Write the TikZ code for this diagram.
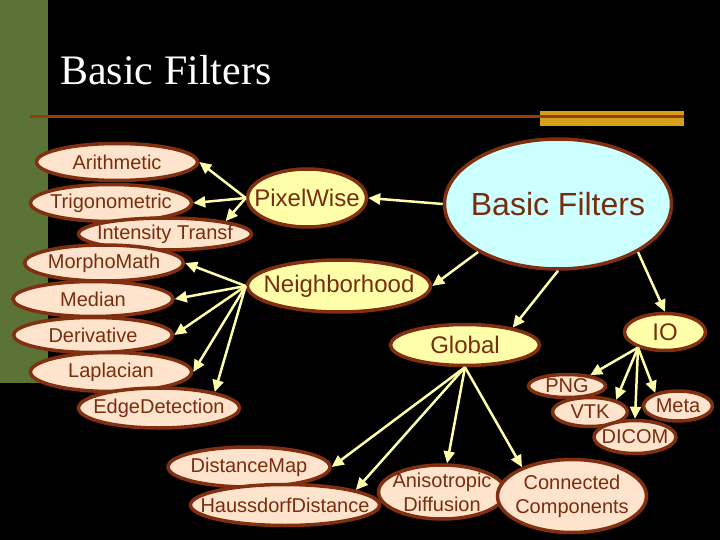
\documentclass[tikz,border=0pt]{standalone}
\usepackage{fontspec}
\setmainfont{Liberation Serif}
\setsansfont{Liberation Sans}
\usetikzlibrary{shapes.geometric,arrows.meta}
\definecolor{slidegreen}{RGB}{91,115,54}
\definecolor{slidegold}{RGB}{212,160,23}
\definecolor{ruleline}{RGB}{150,60,10}
\definecolor{bubbleedge}{RGB}{128,48,16}
\definecolor{bubbletext}{RGB}{120,46,14}
\definecolor{leaffill}{RGB}{255,228,205}
\definecolor{groupfill}{RGB}{255,255,170}
\definecolor{rootfill}{RGB}{204,255,255}
\definecolor{linkcol}{RGB}{255,255,170}

\begin{document}
\begin{tikzpicture}[x=1pt, y=-1pt,
    bubble/.style={ellipse, draw=bubbleedge, line width=3.5pt, inner xsep=-30pt, inner ysep=-12pt,
        text=bubbletext, font=\sffamily\fontsize{20}{24}\selectfont, align=center},
    wh/.style 2 args={minimum width=#1, minimum height=#2},
    leaf/.style={bubble, fill=leaffill},
    group/.style={bubble, fill=groupfill, font=\sffamily\fontsize{24}{28}\selectfont},
    root/.style={bubble, fill=rootfill, font=\sffamily\fontsize{32}{36}\selectfont},
    link/.style={-{Triangle[length=12pt,width=11pt]}, draw=linkcol, line width=2.5pt}]

    % Slide background
    \fill[black] (0,0) rectangle (720,540);
    \useasboundingbox (0,0) rectangle (720,540);
    \fill[slidegreen] (0,0) rectangle (48,383);
    \fill[slidegold] (540,111) rectangle (684,126);
    \draw[ruleline, line width=3pt] (30,117) -- (684,117);
    \node[anchor=base west, inner sep=0pt, text=white, font=\fontsize{42}{48}\selectfont] (title) at (60,85) {Basic Filters};

    % Pixel-wise filters
    \node[leaf, wh={161}{37}] (arith) at (117,162) {Arithmetic};
    \node[leaf, wh={161}{37}] (trig) at (111,203) {Trigonometric};
    \node[leaf, wh={173}{32}] (intens) at (165,234) {Intensity Transf};

    % Neighborhood filters
    \node[leaf, wh={159}{36}] (morph) at (104,263) {MorphoMath};
    \node[leaf, wh={160}{35}] (median) at (93,299) {Median};
    \node[leaf, wh={159}{35}] (deriv) at (93,335) {Derivative};
    \node[leaf, wh={161}{39}] (lapl) at (111,372) {Laplacian};
    \node[leaf, wh={161}{40}] (edge) at (159,408) {EdgeDetection};

    % Global filters
    \node[leaf, wh={162}{40}] (distmap) at (249,467) {DistanceMap};
    \node[leaf, wh={189}{41}] (hauss) at (285,505) {HaussdorfDistance};
    \node[leaf, wh={127}{54}] (aniso) at (442,492) {Anisotropic\\Diffusion};
    \node[leaf, wh={149}{73}] (conn) at (572,496) {Connected\\Components};

    % IO formats
    \node[leaf, wh={77}{23}] (png) at (567,386) {PNG};
    \node[leaf, wh={75}{29}] (vtk) at (590,412) {VTK};
    \node[leaf, wh={69}{30}] (meta) at (678,406) {Meta};
    \node[leaf, wh={82}{33}] (dicom) at (635,437) {DICOM};

    % Groups and root
    \node[group, wh={119}{58}] (pixel) at (307,198) {PixelWise};
    \node[group, wh={183}{52}] (neigh) at (339,286) {Neighborhood};
    \node[group, wh={149}{41}] (global) at (465,345) {Global};
    \node[group, wh={81}{37}] (io) at (665,332) {IO};
    \node[root, wh={227}{130}] (basic) at (558,204) {Basic Filters};

    % Links
    \draw[link] (basic.west) -- (pixel.east);
    \draw[link] (basic.211) -- (neigh.east);
    \draw[link] (basic.south) -- (global.20);
    \draw[link] (basic.329) -- (io.north);

    \draw[link] (pixel.west) -- (arith.east);
    \draw[link] (pixel.west) -- (trig.east);
    \draw[link] (pixel.west) -- (intens.12);

    \draw[link] (neigh.west) -- (morph.east);
    \draw[link] (neigh.west) -- (median.east);
    \draw[link] (neigh.west) -- (deriv.east);
    \draw[link] (neigh.west) -- (lapl.east);
    \draw[link] (neigh.west) -- (edge.16);

    \draw[link] (global.south) -- (distmap.east);
    \draw[link] (global.south) -- (hauss.12);
    \draw[link] (global.south) -- (aniso.80);
    \draw[link] (global.south) -- (conn.150);

    \draw[link] (io.210) -- (png.25);
    \draw[link] (io.210) -- (vtk.25);
    \draw[link] (io.210) -- (dicom.north);
    \draw[link] (io.210) -- (meta.150);
\end{tikzpicture}
\end{document}
